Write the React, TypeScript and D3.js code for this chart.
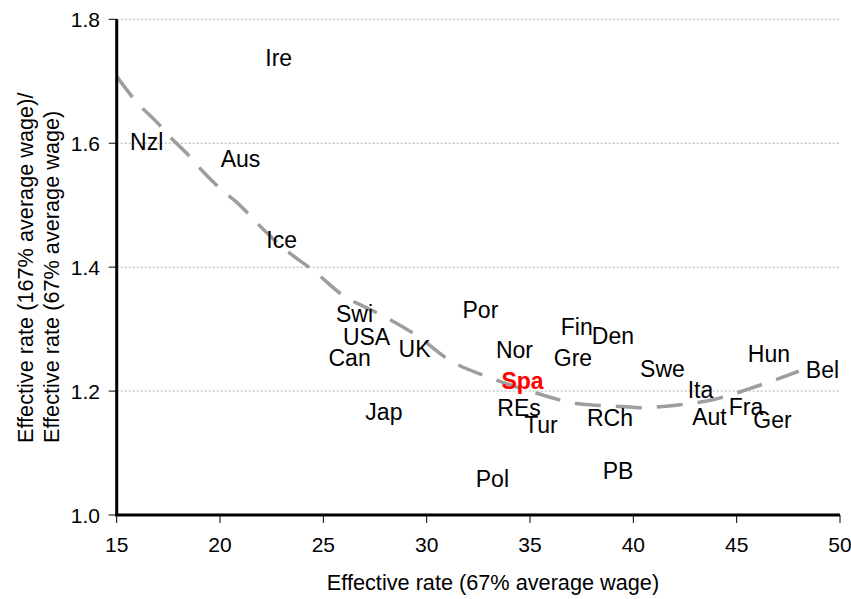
import React from "react";
import * as d3 from "d3";

// Country codes and positions (x: effective rate at 67% of the average wage,
// y: ratio of the effective rate at 167% to the rate at 67%)
const countries = [
  "Nzl", "Ire", "Aus", "Ice", "Swi", "USA", "Can", "UK", "Jap", "Por",
  "Nor", "Spa", "REs", "Tur", "Pol", "Fin", "Den", "Gre", "Swe", "RCh",
  "PB", "Ita", "Aut", "Fra", "Ger", "Hun", "Bel",
];
const rate67 = [
  16.45, 22.84, 20.99, 22.98, 26.51, 27.09, 26.27, 29.41, 27.93, 32.6,
  34.25, 34.64, 34.47, 35.53, 33.18, 37.26, 39.01, 37.08, 41.41, 38.87,
  39.26, 43.25, 43.68, 45.45, 46.73, 46.56, 49.15,
];
const ratio = [
  1.602, 1.738, 1.575, 1.444, 1.324, 1.287, 1.253, 1.269, 1.166, 1.332,
  1.266, 1.217, 1.173, 1.145, 1.058, 1.303, 1.29, 1.254, 1.236, 1.157,
  1.071, 1.202, 1.158, 1.174, 1.153, 1.261, 1.235,
];
const highlighted = "Spa";

// Trend curve
const trendX = [
  15, 16, 17, 17.5, 18.55, 19.13, 20.1, 20.8, 21.8, 22.4, 23.4, 24.5, 25.97,
  27.37, 28.3, 29.5, 31.15, 33.2, 35.36, 37.45, 39.5, 40.35, 41.7, 43.84,
  45.9, 48,
];
const trendY = [
  1.708, 1.665, 1.632, 1.613, 1.578, 1.556, 1.524, 1.505, 1.471, 1.451, 1.422,
  1.395, 1.354, 1.33, 1.314, 1.29, 1.249, 1.22, 1.196, 1.179, 1.175, 1.173,
  1.176, 1.186, 1.207, 1.232,
];

const xTicks = [15, 20, 25, 30, 35, 40, 45, 50];
const yTicks = [1.0, 1.2, 1.4, 1.6, 1.8];
const xTitle = "Effective rate (67% average wage)";
const yTitleLines = [
  "Effective rate (167% average wage)/",
  "Effective rate (67% average wage)",
];

const W = 851;
const H = 599;
const FONT = "'Liberation Sans', Arial, sans-serif";

export default function App() {
  const x = d3.scaleLinear().domain([15, 50]).range([116.7, 840]);
  const y = d3.scaleLinear().domain([1.0, 1.8]).range([515, 19.3]);

  const trendPts: [number, number][] = trendX.map((v, i) => [v, trendY[i]]);
  const trendPath = d3
    .line<[number, number]>()
    .x((d) => x(d[0]))
    .y((d) => y(d[1]))
    .curve(d3.curveMonotoneX)(trendPts);

  const labelSize = 23;
  const tickSize = 21;
  const titleSize = 21.7;

  return (
    <svg
      width={W}
      height={H}
      style={{ position: "absolute", left: 0, top: 0, background: "#fff" }}
      fontFamily={FONT}
    >
      <rect width={W} height={H} fill="#fff" />
      {/* horizontal gridlines */}
      {yTicks
        .filter((t) => t > 1.0)
        .map((t) => (
          <line
            key={"g" + t}
            x1={x(15)}
            x2={x(50)}
            y1={y(t)}
            y2={y(t)}
            stroke="#b0b0b0"
            strokeWidth={1}
            strokeDasharray="2 2"
          />
        ))}

      {/* trend */}
      <path
        d={trendPath || ""}
        fill="none"
        stroke="#9e9e9e"
        strokeWidth={3.5}
        strokeDasharray="26 15"
      />

      {/* country labels */}
      {countries.map((c, i) => (
        <text
          key={c}
          x={x(rate67[i])}
          y={y(ratio[i])}
          dy={labelSize * 0.358}
          textAnchor="middle"
          fontSize={labelSize}
          fontWeight={c === highlighted ? "bold" : "normal"}
          fill={c === highlighted ? "#ff0000" : "#000"}
        >
          {c}
        </text>
      ))}

      {/* y axis */}
      <line x1={x(15)} x2={x(15)} y1={y(1.8)} y2={y(1.0)} stroke="#000" strokeWidth={3} />
      {yTicks.map((t) => (
        <g key={"y" + t}>
          <line x1={x(15) - 8} x2={x(15)} y1={y(t)} y2={y(t)} stroke="#000" strokeWidth={1} />
          <text
            x={100}
            y={y(t)}
            dy={tickSize * 0.358}
            textAnchor="end"
            fontSize={tickSize}
            fill="#000"
          >
            {d3.format(".1f")(t)}
          </text>
        </g>
      ))}

      {/* x axis */}
      <line x1={x(15) - 1.5} x2={x(50)} y1={y(1.0)} y2={y(1.0)} stroke="#000" strokeWidth={3} />
      {xTicks.map((t) => (
        <g key={"x" + t}>
          <line x1={x(t)} x2={x(t)} y1={y(1.0)} y2={y(1.0) + 8} stroke="#000" strokeWidth={1} />
          <text x={x(t)} y={552} textAnchor="middle" fontSize={tickSize} fill="#000">
            {t}
          </text>
        </g>
      ))}

      {/* axis titles */}
      <text x={493} y={590} textAnchor="middle" fontSize={titleSize} fill="#000">
        {xTitle}
      </text>
      {yTitleLines.map((line, i) => (
        <text
          key={"yt" + i}
          transform={`translate(${33 + i * 26},443) rotate(-90)`}
          textAnchor="start"
          fontSize={titleSize}
          fill="#000"
        >
          {line}
        </text>
      ))}
    </svg>
  );
}
